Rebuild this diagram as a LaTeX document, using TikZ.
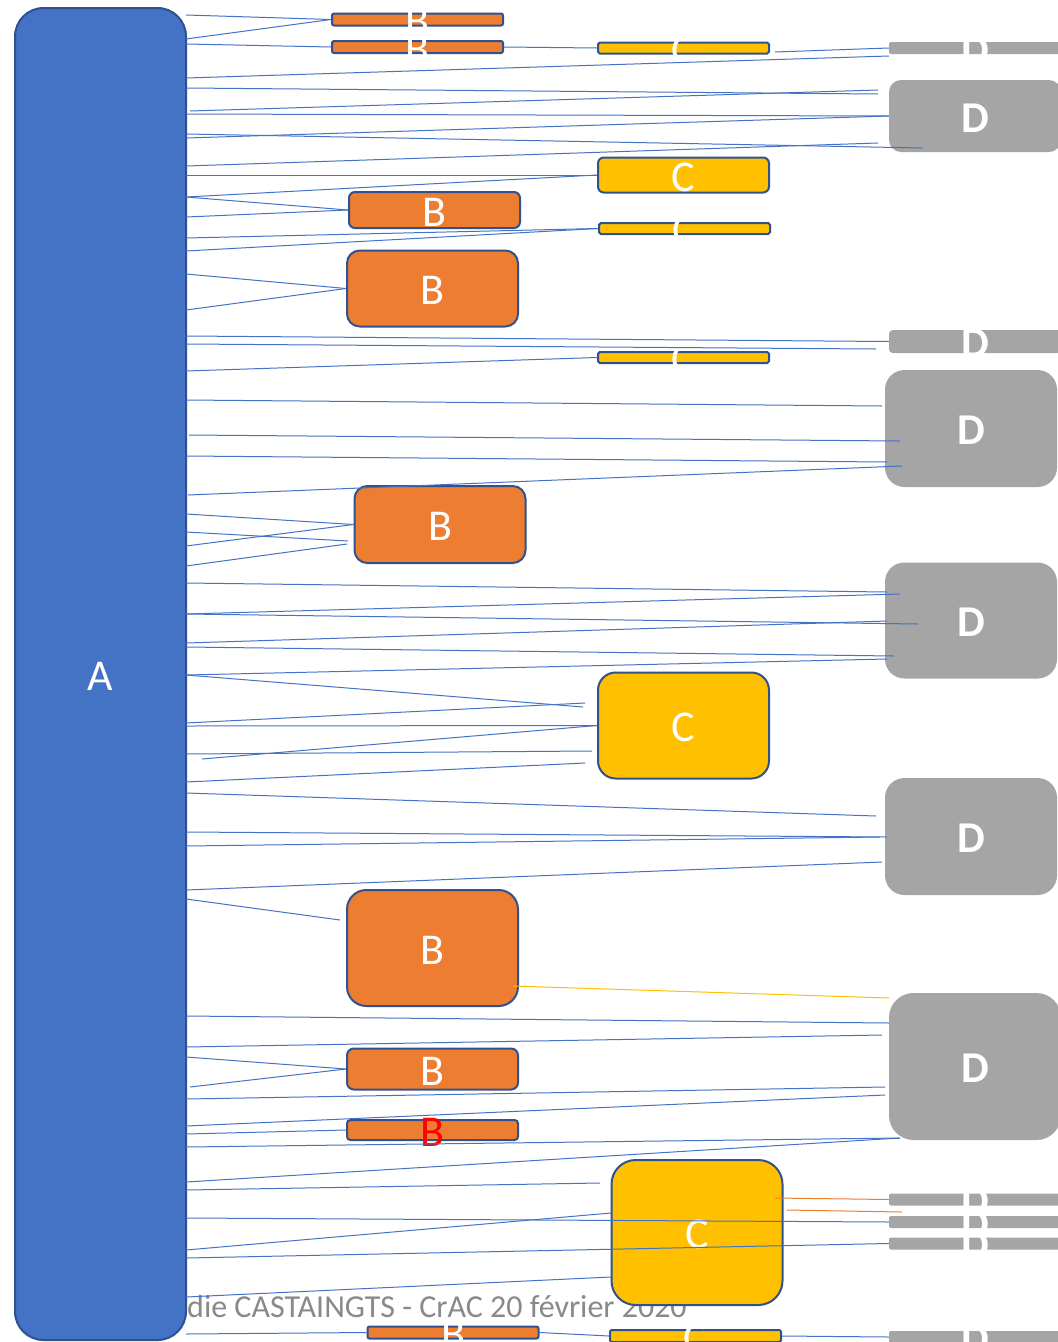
\documentclass[tikz,border=0pt]{standalone}
\usepackage{fontspec}
\setmainfont{Carlito}
\definecolor{blueA}{HTML}{4472C4}
\definecolor{bdr}{HTML}{2F528F}
\definecolor{orangeB}{HTML}{ED7D31}
\definecolor{yellowC}{HTML}{FFC000}
\definecolor{grayD}{HTML}{A5A5A5}
\definecolor{footgray}{HTML}{898989}
\tikzset{
  boxA/.style={draw=bdr, line width=2pt, fill=blueA, inner sep=0pt},
  boxB/.style={draw=bdr, line width=2pt, fill=orangeB, inner sep=0pt},
  boxC/.style={draw=bdr, line width=2pt, fill=yellowC, inner sep=0pt},
  boxD/.style={draw=none, fill=grayD, inner sep=0pt},
  boxAlbl/.style={text=white, font=\fontsize{44}{44}\selectfont, inner sep=0pt, yshift=-2pt},
  boxBlbl/.style={text=white, font=\fontsize{44}{44}\selectfont, inner sep=0pt, yshift=-2pt},
  boxClbl/.style={text=white, font=\fontsize{44}{44}\selectfont, inner sep=0pt, yshift=-2pt},
  boxDlbl/.style={text=white, font=\fontsize{44}{44}\selectfont\bfseries, inner sep=0pt, yshift=-2pt},
  boxRlbl/.style={text=red, font=\fontsize{44}{44}\selectfont, inner sep=0pt, yshift=-2pt},
  link/.style={draw=blueA, line width=1pt},
  olink/.style={draw=orangeB, line width=1pt},
  ylink/.style={draw=yellowC, line width=1pt},
}
% #1 style, #2 name, #3 x, #4 y, #5 w, #6 h, #7 label, #8 label style
\newcommand\mkbox[8]{%
  \pgfmathsetmacro\rr{min(#5,#6)/6}%
  \node[#1, minimum width=#5pt, minimum height=#6pt, rounded corners=\rr pt,
        label={[#8]center:#7}] (#2) at (#3,#4) {};
}
\begin{document}
\begin{tikzpicture}[x=1pt,y=-1pt]
\clip (0,0) rectangle (1058,1342);
\fill[white] (0,0) rectangle (1058,1342);

% footer (partly hidden)
\node[anchor=base west, text=footgray, font=\fontsize{32}{32}\selectfont, inner sep=0pt] (foot) at (187,1317) {die CASTAINGTS - CrAC 20 février 2020};

% A
\mkbox{boxA}{A}{100.5}{674}{171}{1332}{A}{boxAlbl}

% B boxes
\mkbox{boxB}{B1}{417.5}{19.5}{171}{12}{B}{boxBlbl}
\mkbox{boxB}{B2}{417.5}{47}{171}{12}{B}{boxBlbl}
\mkbox{boxB}{B3}{434.5}{210}{171}{36}{B}{boxBlbl}
\mkbox{boxB}{B4}{432.5}{288.5}{171}{76}{B}{boxBlbl}
\mkbox{boxB}{B5}{440}{524.5}{171}{77}{B}{boxBlbl}
\mkbox{boxB}{B6}{432.5}{948}{171}{116}{B}{boxBlbl}
\mkbox{boxB}{B7}{432.5}{1069}{171}{41}{B}{boxBlbl}
\mkbox{boxB}{B8}{432.5}{1130}{171}{20}{B}{boxRlbl}
\mkbox{boxB}{B9}{453}{1332.5}{171}{12}{B}{boxBlbl}

% C boxes
\mkbox{boxC}{C1}{683.5}{48}{171}{11}{C}{boxClbl}
\mkbox{boxC}{C2}{683.5}{175}{171}{35}{C}{boxClbl}
\mkbox{boxC}{C3}{684.5}{228.5}{171}{11}{C}{boxClbl}
\mkbox{boxC}{C4}{683.5}{357.5}{171}{11}{C}{boxClbl}
\mkbox{boxC}{C5}{683.5}{725.5}{171}{106}{C}{boxClbl}
\mkbox{boxC}{C6}{697}{1232.5}{171}{145}{C}{boxClbl}
\mkbox{boxC}{C7}{695.5}{1336}{171}{12}{C}{boxClbl}

% D boxes
\mkbox{boxD}{D1}{975}{48}{172}{12}{D}{boxDlbl}
\mkbox{boxD}{D2}{975}{116}{172}{72}{D}{boxDlbl}
\mkbox{boxD}{D3}{975}{341.5}{172}{23}{D}{boxDlbl}
\mkbox{boxD}{D4}{971}{428.5}{172}{117}{D}{boxDlbl}
\mkbox{boxD}{D5}{971}{620.5}{172}{116}{D}{boxDlbl}
\mkbox{boxD}{D6}{971}{836.5}{172}{117}{D}{boxDlbl}
\mkbox{boxD}{D7}{975}{1066.5}{172}{147}{D}{boxDlbl}
\mkbox{boxD}{D8}{975}{1199.5}{172}{12}{D}{boxDlbl}
\mkbox{boxD}{D9}{975}{1222}{172}{12}{D}{boxDlbl}
\mkbox{boxD}{D10}{975}{1243.5}{172}{12}{D}{boxDlbl}
\mkbox{boxD}{D11}{975}{1337}{172}{12}{D}{boxDlbl}

% connectors
\draw[link] (186,15) -- (B1.west);
\draw[link] (186,39) -- (B1.west);
\draw[link] (186,44) -- (B2.west);
\draw[link] (B2.east) -- (C1.west);
\draw[link] (775,52) -- (D1.west);
\draw[link] (186,78) -- (889,56);
\draw[link] (186,88) -- (878,94);
\draw[link] (190,111) -- (878,90);
\draw[link] (186,114) -- (D2.west);
\draw[link] (186,134) -- (923,148);
\draw[link] (186,138) -- (D2.west);
\draw[link] (186,166) -- (878,143);
\draw[link] (186,175) -- (C2.west);
\draw[link] (186,197) -- (C2.west);
\draw[link] (186,197) -- (B3.west);
\draw[link] (186,217) -- (B3.west);
\draw[link] (186,238) -- (C3.west);
\draw[link] (186,251) -- (C3.west);
\draw[link] (186,274) -- (B4.west);
\draw[link] (186,310) -- (B4.west);
\draw[link] (186,336) -- (D3.west);
\draw[link] (186,344) -- (876,349);
\draw[link] (186,371) -- (C4.west);
\draw[link] (186,400) -- (882,406);
\draw[link] (189,435) -- (900,441);
\draw[link] (186,456) -- (887,462);
\draw[link] (188,495) -- (902,466);
\draw[link] (186,514) -- (B5.west);
\draw[link] (186,532) -- (348,541);
\draw[link] (186,546) -- (B5.west);
\draw[link] (186,566) -- (347,544);
\draw[link] (186,583) -- (887,592);
\draw[link] (186,614) -- (900,594);
\draw[link] (186,614) -- (918,624);
\draw[link] (186,643) -- (887,621);
\draw[link] (186,647) -- (894,656);
\draw[link] (186,675) -- (887,659);
\draw[link] (186,675) -- (583,707);
\draw[link] (186,723) -- (585,703);
\draw[link] (186,726) -- (C5.west);
\draw[link] (202,759) -- (C5.west);
\draw[link] (186,754) -- (592,751);
\draw[link] (186,782) -- (585,763);
\draw[link] (186,793) -- (876,816);
\draw[link] (186,832) -- (887,837);
\draw[link] (186,846) -- (880,837);
\draw[link] (186,890) -- (882,862);
\draw[link] (186,899) -- (340,920);
\draw[ylink] (513,986) -- (889,998);
\draw[link] (186,1016) -- (889,1023);
\draw[link] (186,1047) -- (882,1035);
\draw[link] (186,1057) -- (B7.west);
\draw[link] (190,1087) -- (B7.west);
\draw[link] (186,1099) -- (885,1087);
\draw[link] (186,1126) -- (885,1095);
\draw[link] (186,1134) -- (B8.west);
\draw[link] (186,1147) -- (900,1138);
\draw[link] (186,1182) -- (900,1138);
\draw[link] (186,1190) -- (600,1183);
\draw[link] (186,1218) -- (D9.west);
\draw[link] (186,1250) -- (611,1213);
\draw[link] (186,1258) -- (D10.west);
\draw[link] (186,1297) -- (611,1277);
\draw[olink] (775,1198) -- (D8.west);
\draw[olink] (787,1210) -- (902,1212);
\draw[link] (186,1334) -- (B9.west);
\draw[link] (B9.east) -- (C7.west);
\draw[link] (C7.east) -- (D11.west);
\end{tikzpicture}
\end{document}
